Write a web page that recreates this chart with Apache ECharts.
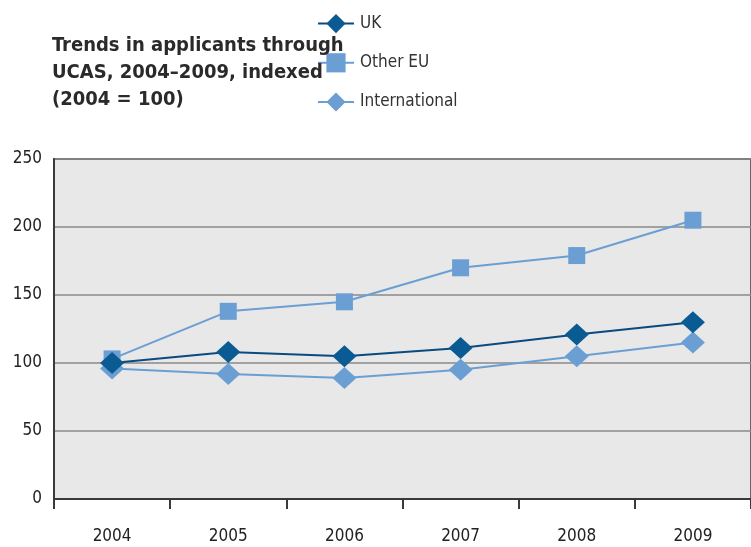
<!DOCTYPE html>
<html><head><meta charset="utf-8">
<script src="https://cdn.jsdelivr.net/npm/echarts@6/dist/echarts.min.js"></script>
<style>html,body{margin:0;padding:0;background:#fff}#c{width:751px;height:547px}</style>
</head><body><div id="c"></div>
<script>
var years = ['2004','2005','2006','2007','2008','2009'];
var ukValues = [100, 108, 105, 111, 121, 130];
var otherEuValues = [103, 138, 145, 170, 179, 205];
var internationalValues = [96, 92, 89, 95, 105, 115];
var seriesNames = ['UK', 'Other EU', 'International'];
var titleLines = ['Trends in applicants through', 'UCAS, 2004\u20132009, indexed', '(2004 = 100)'];

var font = '"DejaVu Sans Condensed","Liberation Sans",sans-serif';
var chart = echarts.init(document.getElementById('c'));
chart.setOption({
  animation: false,
  title: {
    text: titleLines.join('\n'), left: 47, top: 27,
    textStyle: {fontFamily: font, fontSize: 20, fontWeight: 'bold', color: '#2a2a2a', lineHeight: 27}
  },
  legend: {
    orient: 'vertical', left: 312, top: 9, itemGap: 20, itemWidth: 36, itemHeight: 24,
    data: seriesNames,
    textStyle: {fontFamily: font, fontSize: 17, color: '#333', padding: [0,0,0,1]}
  },
  grid: {left: 54, right: -9, top: 159, bottom: 48, show: true, backgroundColor: '#e8e8e8', borderColor: '#3a3a3a', borderWidth: 1.5},
  xAxis: {
    type: 'category', data: years, boundaryGap: true,
    axisLine: {lineStyle: {color: '#3a3a3a', width: 2}},
    axisTick: {show: true, length: 10, lineStyle: {color: '#3a3a3a', width: 2}},
    axisLabel: {fontFamily: font, fontSize: 17, color: '#222', margin: 29}
  },
  yAxis: {
    type: 'value', min: 0, max: 250, interval: 50,
    axisLine: {show: true, lineStyle: {color: '#3a3a3a', width: 2}},
    axisTick: {show: false},
    axisLabel: {fontFamily: font, fontSize: 17, color: '#222', margin: 12},
    splitLine: {lineStyle: {color: '#8a8a8a', width: 1.5}}
  },
  series: [
    {name: 'Other EU', type: 'line', data: otherEuValues, symbol: 'rect', symbolSize: 17, z: 2,
     itemStyle: {color: '#6b9fd3'}, lineStyle: {color: '#6b9fd3', width: 2}},
    {name: 'UK', type: 'line', data: ukValues, symbol: 'diamond', symbolSize: [24, 22], z: 4,
     itemStyle: {color: '#0a5a94'}, lineStyle: {color: '#0a4a80', width: 2}},
    {name: 'International', type: 'line', data: internationalValues, symbol: 'diamond', symbolSize: [24, 22], z: 3,
     itemStyle: {color: '#6b9fd3'}, lineStyle: {color: '#6b9fd3', width: 2}}
  ]
});
</script></body></html>
